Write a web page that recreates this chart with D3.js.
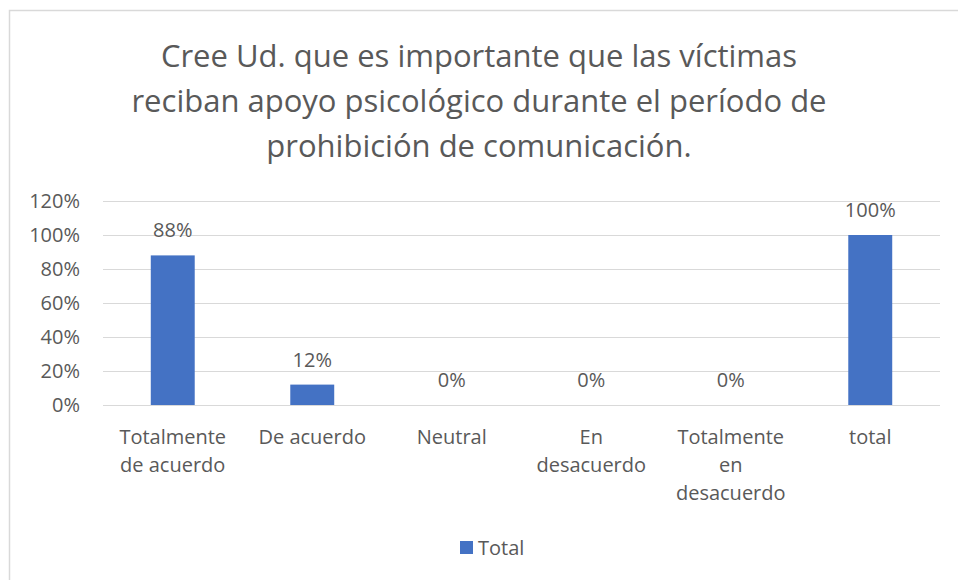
<!DOCTYPE html>
<html>
<head>
<meta charset="utf-8">
<script src="https://cdn.jsdelivr.net/npm/d3@7"></script>
<style>
  html, body { margin: 0; padding: 0; background: #fff; }
  text { font-family: "Open Sans", sans-serif; fill: #595959; }
</style>
</head>
<body>
<div id="chart"></div>
<script>
// data
const categories = [
  ["Totalmente", "de acuerdo"],
  ["De acuerdo"],
  ["Neutral"],
  ["En", "desacuerdo"],
  ["Totalmente", "en", "desacuerdo"],
  ["total"]
];
const values = [0.88, 0.12, 0, 0, 0, 1.00];
const yTicks = [0, 0.2, 0.4, 0.6, 0.8, 1.0, 1.2];
const titleLines = [
  "Cree Ud. que es importante que las víctimas",
  "reciban apoyo psicológico durante el período de",
  "prohibición de comunicación."
];
const seriesName = "Total";

const W = 958, H = 580;
const margin = { top: 201, right: 18, bottom: 175, left: 103 };
const width = W - margin.left - margin.right,
      height = H - margin.top - margin.bottom;

const svg = d3.select("#chart").append("svg")
  .attr("width", W)
  .attr("height", H);

// chart border (only top & left edges visible in the crop)
svg.append("rect")
  .attr("x", 9.5).attr("y", 10.5)
  .attr("width", W + 20).attr("height", H + 20)
  .attr("fill", "none")
  .attr("stroke", "#d9d9d9")
  .attr("stroke-width", 1.5);

// title
svg.append("text")
  .attr("text-anchor", "middle")
  .style("font-size", "31px")
  .selectAll("tspan")
  .data(titleLines)
  .enter().append("tspan")
  .attr("x", 479)
  .attr("y", (d, i) => 67 + i * 45)
  .text(d => d);

const g = svg.append("g")
  .attr("transform", `translate(${margin.left},${margin.top})`);

const x = d3.scaleBand()
  .domain(d3.range(categories.length))
  .range([0, width])
  .paddingInner(0.685)
  .paddingOuter(0.3425);

const y = d3.scaleLinear()
  .domain([0, 1.2])
  .range([height, 0]);

// gridlines
g.selectAll(".grid")
  .data(yTicks)
  .enter().append("line")
  .attr("x1", 0).attr("x2", width)
  .attr("y1", d => Math.round(y(d)) + 0.5)
  .attr("y2", d => Math.round(y(d)) + 0.5)
  .attr("stroke", "#d9d9d9")
  .attr("stroke-width", 1.2);

// y axis
const yAxis = d3.axisLeft(y)
  .tickValues(yTicks)
  .tickFormat(d3.format(".0%"))
  .tickSize(0)
  .tickPadding(23);

g.append("g")
  .call(yAxis)
  .call(a => a.select(".domain").remove())
  .selectAll("text")
  .style("font-size", "20px")
  .attr("fill", "#595959");

// bars
g.selectAll(".bar")
  .data(values)
  .enter().append("rect")
  .attr("class", "bar")
  .attr("x", (d, i) => x(i))
  .attr("y", d => y(d))
  .attr("width", x.bandwidth())
  .attr("height", d => height - y(d))
  .attr("fill", "#4472c4");

// data labels
g.selectAll(".lbl")
  .data(values)
  .enter().append("text")
  .attr("class", "lbl")
  .attr("text-anchor", "middle")
  .attr("x", (d, i) => x(i) + x.bandwidth() / 2)
  .attr("y", d => y(d) - 18)
  .style("font-size", "20px")
  .text(d => d3.format(".0%")(d));

// x category labels
const xl = g.selectAll(".xl")
  .data(categories)
  .enter().append("text")
  .attr("class", "xl")
  .attr("text-anchor", "middle")
  .style("font-size", "20px");

xl.selectAll("tspan")
  .data((d, i) => d.map(t => ({ t, i })))
  .enter().append("tspan")
  .attr("x", d => x(d.i) + x.bandwidth() / 2)
  .attr("y", (d, j) => height + 39 + j * 28)
  .text(d => d.t);

// legend
const legend = svg.append("g")
  .attr("transform", "translate(460,541)");
legend.append("rect")
  .attr("width", 13).attr("height", 13)
  .attr("fill", "#4472c4");
legend.append("text")
  .attr("x", 18).attr("y", 14)
  .style("font-size", "20px")
  .text(seriesName);
</script>
</body>
</html>
